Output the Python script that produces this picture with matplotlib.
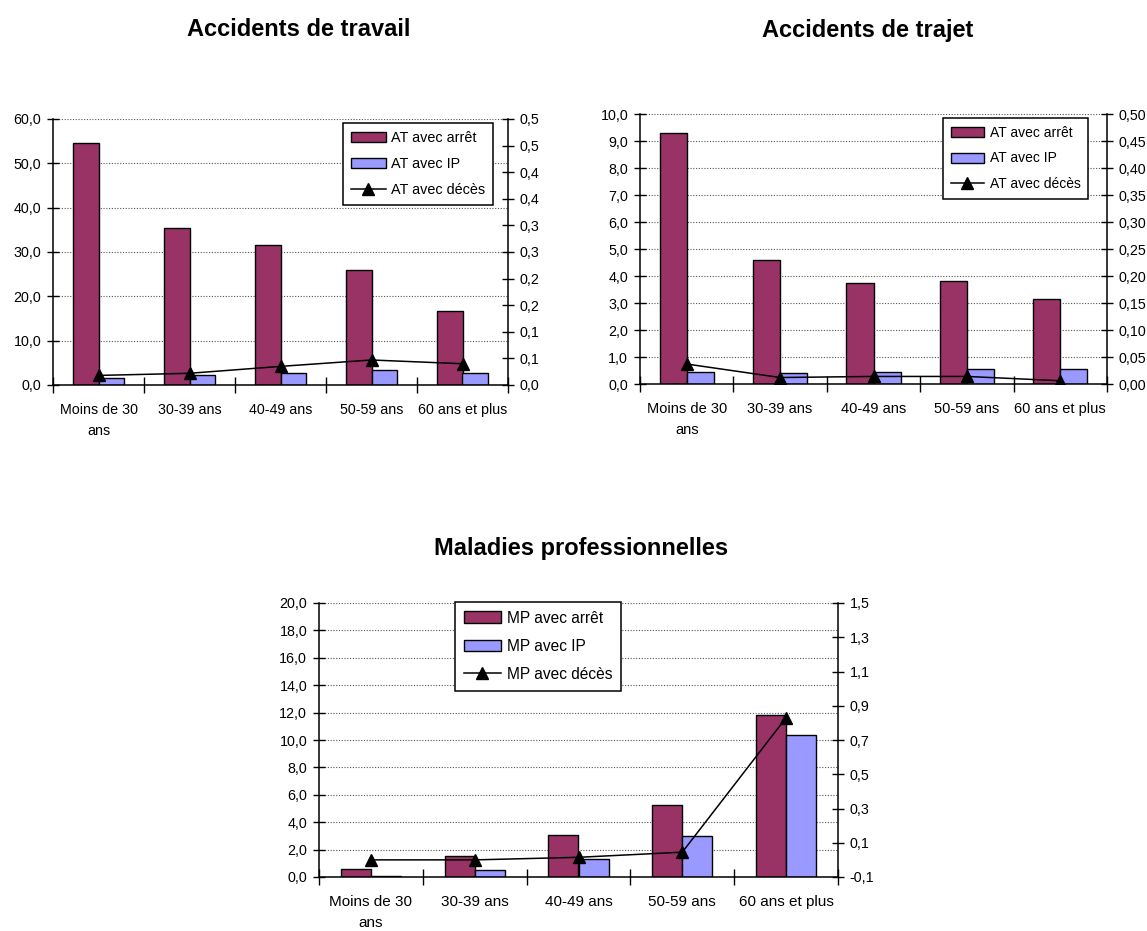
import matplotlib
matplotlib.use("Agg")
import matplotlib.pyplot as plt
import numpy as np

# ---------------- data ----------------
categories = ["Moins de 30\nans", "30-39 ans", "40-49 ans", "50-59 ans", "60 ans et plus"]

at_arret = [54.6, 35.5, 31.5, 26.0, 16.7]
at_ip = [1.6, 2.2, 2.8, 3.4, 2.8]
at_deces = [0.018, 0.022, 0.035, 0.047, 0.040]

tr_arret = [9.3, 4.6, 3.75, 3.8, 3.13]
tr_ip = [0.44, 0.40, 0.44, 0.55, 0.55]
tr_deces = [0.037, 0.012, 0.014, 0.014, 0.006]

mp_arret = [0.6, 1.5, 3.1, 5.25, 11.8]
mp_ip = [0.08, 0.5, 1.3, 3.0, 10.4]
mp_deces = [0.0, 0.0, 0.015, 0.045, 0.83]

at_left_ticks = [0, 10, 20, 30, 40, 50, 60]
at_left_labels = ["0,0", "10,0", "20,0", "30,0", "40,0", "50,0", "60,0"]
at_right_ticks = [0.0, 0.05, 0.10, 0.15, 0.20, 0.25, 0.30, 0.35, 0.40, 0.45, 0.50]
at_right_labels = ["0,0", "0,1", "0,1", "0,2", "0,2", "0,3", "0,3", "0,4", "0,4", "0,5", "0,5"]

tr_left_ticks = [0, 1, 2, 3, 4, 5, 6, 7, 8, 9, 10]
tr_left_labels = ["0,0", "1,0", "2,0", "3,0", "4,0", "5,0", "6,0", "7,0", "8,0", "9,0", "10,0"]
tr_right_ticks = [0.0, 0.05, 0.10, 0.15, 0.20, 0.25, 0.30, 0.35, 0.40, 0.45, 0.50]
tr_right_labels = ["0,00", "0,05", "0,10", "0,15", "0,20", "0,25", "0,30", "0,35", "0,40", "0,45", "0,50"]

mp_left_ticks = [0, 2, 4, 6, 8, 10, 12, 14, 16, 18, 20]
mp_left_labels = ["0,0", "2,0", "4,0", "6,0", "8,0", "10,0", "12,0", "14,0", "16,0", "18,0", "20,0"]
mp_right_ticks = [-0.1, 0.1, 0.3, 0.5, 0.7, 0.9, 1.1, 1.3, 1.5]
mp_right_labels = ["-0,1", "0,1", "0,3", "0,5", "0,7", "0,9", "1,1", "1,3", "1,5"]

# ---------------- style ----------------
plt.rcParams["font.family"] = ["Liberation Sans", "DejaVu Sans"]

C_ARRET = "#993366"
C_IP = "#9999FF"

W, H = 1147, 931
fig = plt.figure(figsize=(W / 100, H / 100), dpi=100)


def px_axes(l, t, r, b):
    return [l / W, 1 - b / H, (r - l) / W, (b - t) / H]


def make_chart(rect, arret, ip, deces, names, lticks, llabels, rticks, rlabels,
               title, title_xy, leg_xy, bw, yfs, xfs, lfs):
    ax = fig.add_axes(px_axes(*rect))
    x = np.arange(len(categories))
    b1 = ax.bar(x - bw / 2, arret, width=bw, color=C_ARRET, edgecolor="black",
                linewidth=1.0, label=names[0], zorder=2)
    b2 = ax.bar(x + bw / 2, ip, width=bw, color=C_IP, edgecolor="black",
                linewidth=1.0, label=names[1], zorder=2)
    ax.set_xlim(-0.5, len(categories) - 0.5)
    ax.set_ylim(lticks[0], lticks[-1])
    ax.set_yticks(lticks)
    ax.set_yticklabels(llabels, fontsize=yfs)
    ax.set_xticks(np.arange(len(categories) + 1) - 0.5)
    ax.set_xticklabels([])
    ax.set_xticks(x, minor=True)
    ax.set_xticklabels(categories, minor=True, fontsize=xfs, linespacing=1.65)
    ax.tick_params(axis="x", which="minor", length=0, pad=13)
    ax.tick_params(axis="x", which="major", direction="inout", length=11, width=1.0)
    ax.tick_params(axis="y", direction="inout", length=9, width=1.0, pad=4)
    ax.yaxis.grid(True, linestyle=(0, (1, 1.5)), color="#555555", linewidth=0.8)
    ax.set_axisbelow(True)
    ax.spines["top"].set_visible(False)
    ax.spines["right"].set_visible(False)
    for s in ("left", "bottom"):
        ax.spines[s].set_linewidth(1.1)

    ax2 = ax.twinx()
    (ln,) = ax2.plot(x, deces, color="black", linewidth=1.1, marker="^",
                     markersize=8, label=names[2], zorder=3)
    ax2.set_ylim(rticks[0], rticks[-1])
    ax2.set_yticks(rticks)
    ax2.set_yticklabels(rlabels, fontsize=yfs)
    ax2.tick_params(axis="y", direction="inout", length=9, width=1.0, pad=4)
    ax2.spines["top"].set_visible(False)
    ax2.spines["left"].set_visible(False)
    ax2.spines["bottom"].set_visible(False)
    ax2.spines["right"].set_linewidth(1.1)

    leg = ax2.legend([b1, b2, ln], names, loc="upper left",
                     bbox_to_anchor=(leg_xy[0] / W, 1 - leg_xy[1] / H),
                     bbox_transform=fig.transFigure, fontsize=lfs,
                     frameon=True, fancybox=False, edgecolor="black",
                     handlelength=2.4, handleheight=0.75, handletextpad=0.4,
                     labelspacing=0.85, borderpad=0.55, borderaxespad=0)
    leg.get_frame().set_linewidth(1.1)
    leg.get_frame().set_alpha(1)

    fig.text(title_xy[0] / W, 1 - title_xy[1] / H, title, ha="center", va="center",
             fontsize=17, fontweight="bold")
    return ax, ax2


make_chart((53, 119, 508, 385), at_arret, at_ip, at_deces,
           ["AT avec arrêt", "AT avec IP", "AT avec décès"],
           at_left_ticks, at_left_labels, at_right_ticks, at_right_labels,
           "Accidents de travail", (299, 30), (343, 123), 0.28, 10.3, 10.3, 10.4)

make_chart((640, 114, 1107, 384), tr_arret, tr_ip, tr_deces,
           ["AT avec arrêt", "AT avec IP", "AT avec décès"],
           tr_left_ticks, tr_left_labels, tr_right_ticks, tr_right_labels,
           "Accidents de trajet", (868, 30), (943, 118), 0.29, 10.3, 10.5, 10.0)

make_chart((319, 603, 838, 877), mp_arret, mp_ip, mp_deces,
           ["MP avec arrêt", "MP avec IP", "MP avec décès"],
           mp_left_ticks, mp_left_labels, mp_right_ticks, mp_right_labels,
           "Maladies professionnelles", (581, 549), (455, 602), 0.29, 10.3, 11.0, 11.2)

fig.savefig("out.png", dpi=100)
